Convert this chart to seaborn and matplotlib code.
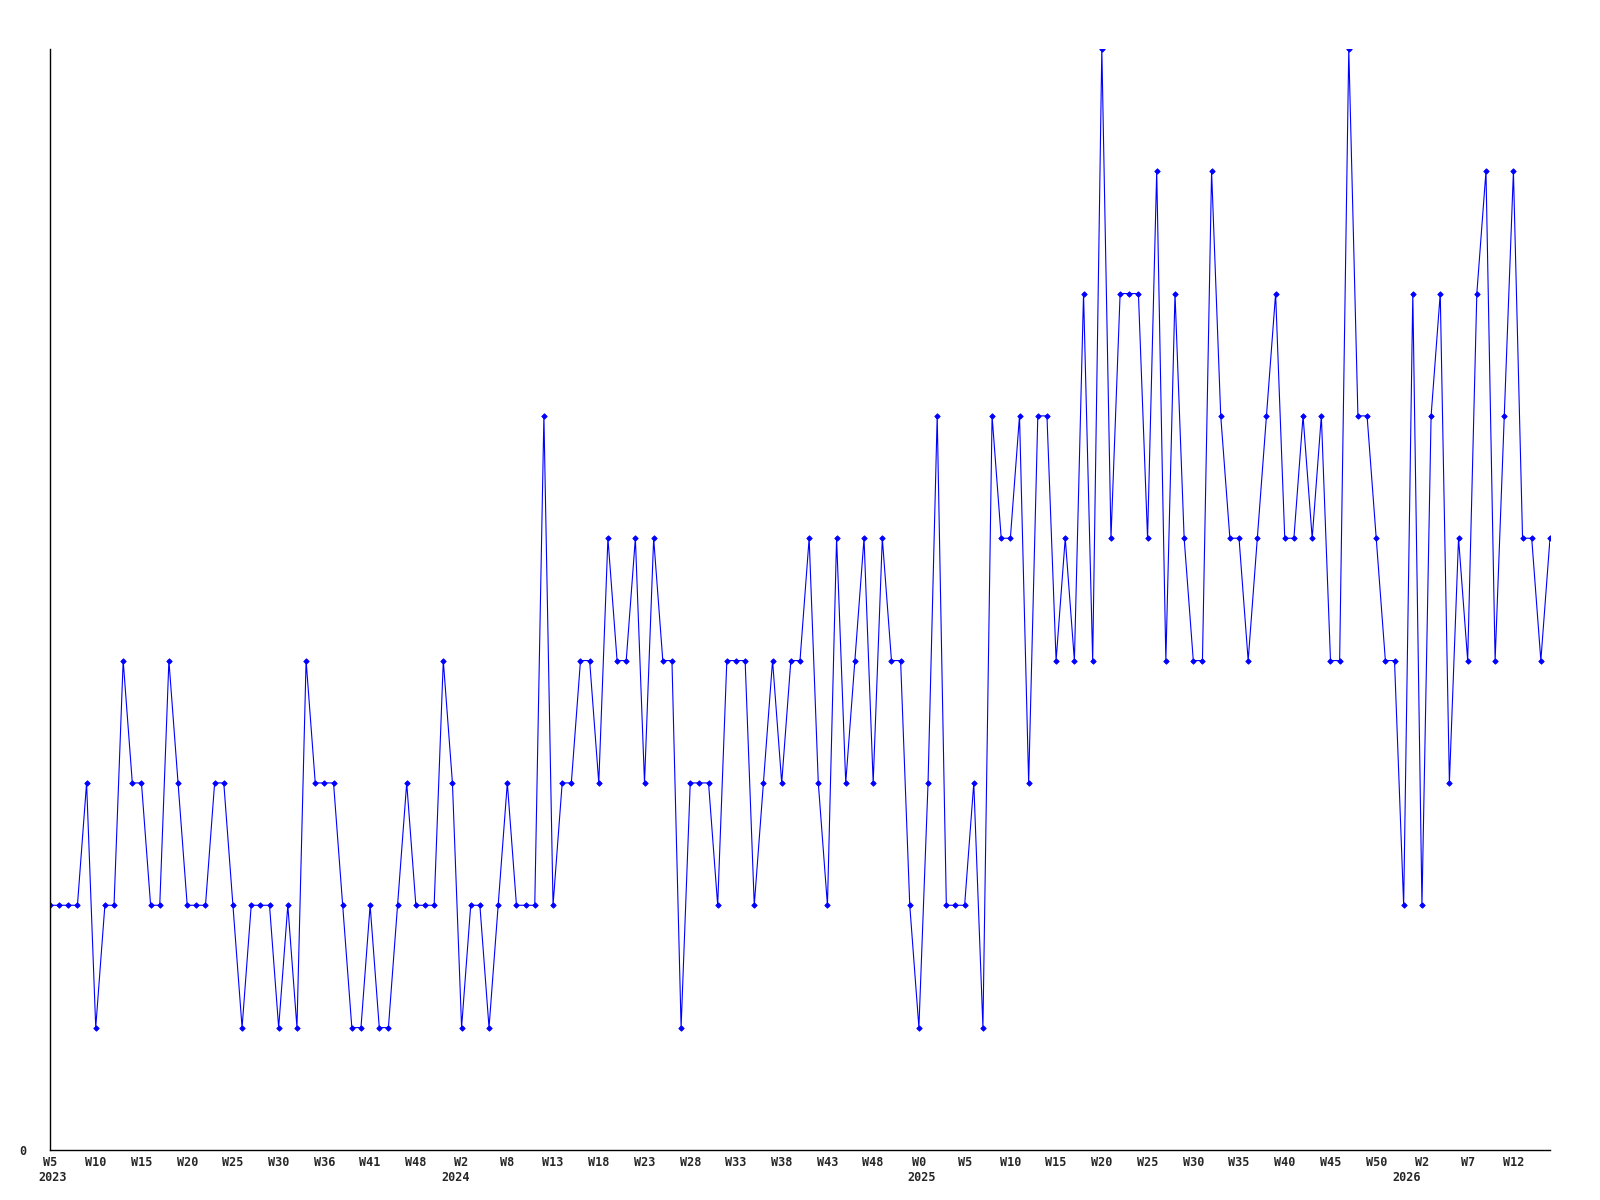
import matplotlib
matplotlib.use('Agg')
import matplotlib.pyplot as plt
import matplotlib.transforms as mtransforms
import pandas as pd
import seaborn as sns

# weekly counts, first point is week 5 of 2023
counts = [2, 2, 2, 2, 3, 1, 2, 2, 4, 3, 3, 2, 2, 4, 3, 2, 2, 2, 3, 3,
          2, 1, 2, 2, 2, 1, 2, 1, 4, 3, 3, 3, 2, 1, 1, 2, 1, 1, 2, 3,
          2, 2, 2, 4, 3, 1, 2, 2, 1, 2, 3, 2, 2, 2, 6, 2, 3, 3, 4, 4,
          3, 5, 4, 4, 5, 3, 5, 4, 4, 1, 3, 3, 3, 2, 4, 4, 4, 2, 3, 4,
          3, 4, 4, 5, 3, 2, 5, 3, 4, 5, 3, 5, 4, 4, 2, 1, 3, 6, 2, 2,
          2, 3, 1, 6, 5, 5, 6, 3, 6, 6, 4, 5, 4, 7, 4, 9, 5, 7, 7, 7,
          5, 8, 4, 7, 5, 4, 4, 8, 6, 5, 5, 4, 5, 6, 7, 5, 5, 6, 5, 6,
          4, 4, 9, 6, 6, 5, 4, 4, 2, 7, 2, 6, 7, 3, 5, 4, 7, 8, 4, 6,
          8, 5, 5, 4, 5]

# tick labels shown every 5th point
week_labels = ['W5', 'W10', 'W15', 'W20', 'W25', 'W30', 'W36', 'W41', 'W48',
               'W2', 'W8', 'W13', 'W18', 'W23', 'W28', 'W33', 'W38', 'W43',
               'W48', 'W0', 'W5', 'W10', 'W15', 'W20', 'W25', 'W30', 'W35',
               'W40', 'W45', 'W50', 'W2', 'W7', 'W12']
# year labels and where they sit along the week axis
years = ['2023', '2024', '2025', '2026']
year_pos = [0.33, 44.3, 95.3, 148.3]

df = pd.DataFrame({'week': range(len(counts)), 'count': counts})

sns.set_style('white')
plt.rcParams['font.family'] = ['DejaVu Sans Mono']

fig = plt.figure(figsize=(16, 12), dpi=100)
ax = fig.add_axes([0.03125, 0.0417, 0.9375, 0.9176])

sns.lineplot(x='week', y='count', data=df, ax=ax, color='#0000ff',
             linewidth=0.8, marker='D', markersize=2.8,
             markeredgecolor='#0000ff', markeredgewidth=0.6)

ax.set_xlim(0, len(counts) - 1)
ax.set_ylim(0, 9)

# week ticks every 5 points
ticks = list(range(0, len(counts), 5))[:len(week_labels)]
ax.set_xticks(ticks)
ax.set_xticklabels(week_labels, fontsize=8.5, fontweight='bold')
shift = mtransforms.ScaledTranslation(-4 / 100, 0, fig.dpi_scale_trans)
for t in ax.get_xticklabels():
    t.set_transform(t.get_transform() + shift)

# years on a second row, as minor ticks
ax.set_xticks(year_pos, minor=True)
ax.set_xticklabels(years, minor=True, fontsize=8.5, fontweight='bold')

ax.set_yticks([0])
ax.set_yticklabels(['0'], fontsize=8.5, fontweight='bold')

ax.tick_params(axis='x', which='major', length=0, pad=4)
ax.tick_params(axis='x', which='minor', length=0, pad=15.5)
ax.tick_params(axis='y', length=0, pad=17)

ax.set_xlabel('')
ax.set_ylabel('')

for side in ['top', 'right']:
    ax.spines[side].set_visible(False)
for side in ['left', 'bottom']:
    ax.spines[side].set_color('black')
    ax.spines[side].set_linewidth(1)

plt.savefig('out.png', dpi=100)
